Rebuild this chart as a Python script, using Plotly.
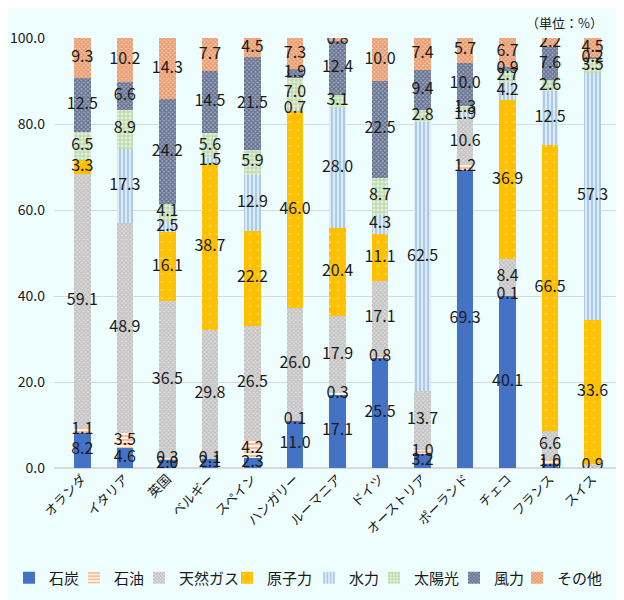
import plotly.graph_objects as go

countries = ["オランダ", "イタリア", "英国", "ベルギー", "スペイン", "ハンガリー", "ルーマニア",
             "ドイツ", "オーストリア", "ポーランド", "チェコ", "フランス", "スイス"]

coal    = [8.2, 4.6, 2.0, 2.1, 2.3, 11.0, 17.1, 25.5, 3.2, 69.3, 40.1, 1.0, 0.0]
oil     = [1.1, 3.5, 0.3, 0.1, 4.2, 0.1, 0.3, 0.8, 1.0, 1.2, 0.1, 1.0, 0.0]
gas     = [59.1, 48.9, 36.5, 29.8, 26.5, 26.0, 17.9, 17.1, 13.7, 10.6, 8.4, 6.6, 0.9]
nuclear = [3.3, 0.0, 16.1, 38.7, 22.2, 46.0, 20.4, 11.1, 0.0, 0.0, 36.9, 66.5, 33.6]
hydro   = [0.0, 17.3, 2.5, 1.5, 12.9, 0.7, 28.0, 4.3, 62.5, 1.9, 4.2, 12.5, 57.3]
solar   = [6.5, 8.9, 4.1, 5.6, 5.9, 7.0, 3.1, 8.7, 2.8, 1.3, 2.7, 2.6, 3.5]
wind    = [12.5, 6.6, 24.2, 14.5, 21.5, 1.9, 12.4, 22.5, 9.4, 10.0, 0.9, 7.6, 0.2]
other   = [9.3, 10.2, 14.3, 7.7, 4.5, 7.3, 0.8, 10.0, 7.4, 5.7, 6.7, 2.2, 4.5]

series_names = ["石炭", "石油", "天然ガス", "原子力", "水力", "太陽光", "風力", "その他"]
series_values = [coal, oil, gas, nuclear, hydro, solar, wind, other]

y_ticks = [0, 20, 40, 60, 80, 100]

# ---- styling / layout constants ----
W, H = 616, 592            # page body has an 8px margin
ML, MR, MT, MB = 46, 3, 30, 132
PW = W - ML - MR
PH = H - MT - MB
FONT = "Noto Sans CJK JP"
TXT = "#1a1a1a"

styles = [
    dict(color="#4472C4", pattern=dict(shape="")),
    dict(color="#FFFFFF", pattern=dict(shape="-", fgcolor="#ED7D31", bgcolor="#FFFFFF", size=4, solidity=0.6)),
    dict(color="#C4C4C4", pattern=dict(shape="x", fgcolor="#9C9C9C", bgcolor="#DCDCDC", size=3, solidity=0.5)),
    dict(color="#FFC000", pattern=dict(shape=".", fgcolor="#FFFFFF", bgcolor="#FFC000", size=8, solidity=0.06)),
    dict(color="#DDEBF7", pattern=dict(shape="|", fgcolor="#5B9BD5", bgcolor="#DDEBF7", size=4, solidity=0.4)),
    dict(color="#70AD47", pattern=dict(shape="+", fgcolor="#70AD47", bgcolor="#E2EFDA", size=4, solidity=0.35)),
    dict(color="#203864", pattern=dict(shape="x", fgcolor="#1C305A", bgcolor="#A3ABC0", size=3, solidity=0.6)),
    dict(color="#ED7D31", pattern=dict(shape="x", fgcolor="#D8642A", bgcolor="#F6C8A8", size=3, solidity=0.6)),
]

legend_text_px = [47, 112, 177, 265, 347, 412, 492, 555]   # where each legend text starts
legend_y_px = 578

fig = go.Figure()
legend_layouts = {}
for k, (name, vals, st) in enumerate(zip(series_names, series_values, styles)):
    lname = "legend" if k == 0 else f"legend{k+1}"
    fig.add_trace(go.Bar(
        x=countries, y=vals, name=name, width=0.39, legend=lname,
        marker=dict(color=st["color"], pattern=st["pattern"], line=dict(width=0)),
        hoverinfo="skip",
    ))
    left_fig = legend_text_px[k] - 8 - 38
    legend_layouts[lname] = dict(
        orientation="h", xanchor="left", yanchor="middle",
        x=(left_fig - ML) / PW, y=(MT + PH - (legend_y_px - 8)) / PH,
        font=dict(family=FONT, size=15, color=TXT), itemwidth=30,
        bgcolor="rgba(0,0,0,0)", borderwidth=0,
    )

# data labels at segment centers
cum = [0.0] * len(countries)
lx, ly, lt = [], [], []
for vals in series_values:
    for i, v in enumerate(vals):
        if v > 0:
            lx.append(countries[i])
            ly.append(cum[i] + v / 2)
            lt.append(f"{v:.1f}")
        cum[i] += v
fig.add_trace(go.Scatter(
    x=lx, y=ly, text=lt, mode="text", showlegend=False, hoverinfo="skip",
    textfont=dict(family=FONT, size=16, color=TXT),
))

bg = "#EEFEFE"
fig.update_layout(
    barmode="stack",
    width=W, height=H,
    paper_bgcolor=bg, plot_bgcolor=bg,
    margin=dict(l=ML, r=MR, t=MT, b=MB, autoexpand=False),
    font=dict(family=FONT, size=13, color=TXT),
    bargap=0.61,
    annotations=[dict(text="（単位：%）", xref="paper", yref="paper", x=0.972, y=1.035,
                      xanchor="right", yanchor="middle", showarrow=False,
                      font=dict(family=FONT, size=13, color=TXT))],
    **legend_layouts,
)
fig.update_xaxes(tickangle=-45, tickfont=dict(size=13), showline=False, ticks="")
fig.update_yaxes(range=[0, 100], tickvals=y_ticks, tickformat=".1f",
                 gridcolor="#D9D9D9", gridwidth=1, zeroline=True, zerolinecolor="#D9D9D9",
                 tickfont=dict(size=14), ticks="", ticklabelstandoff=8)

fig.write_html("out.html")
